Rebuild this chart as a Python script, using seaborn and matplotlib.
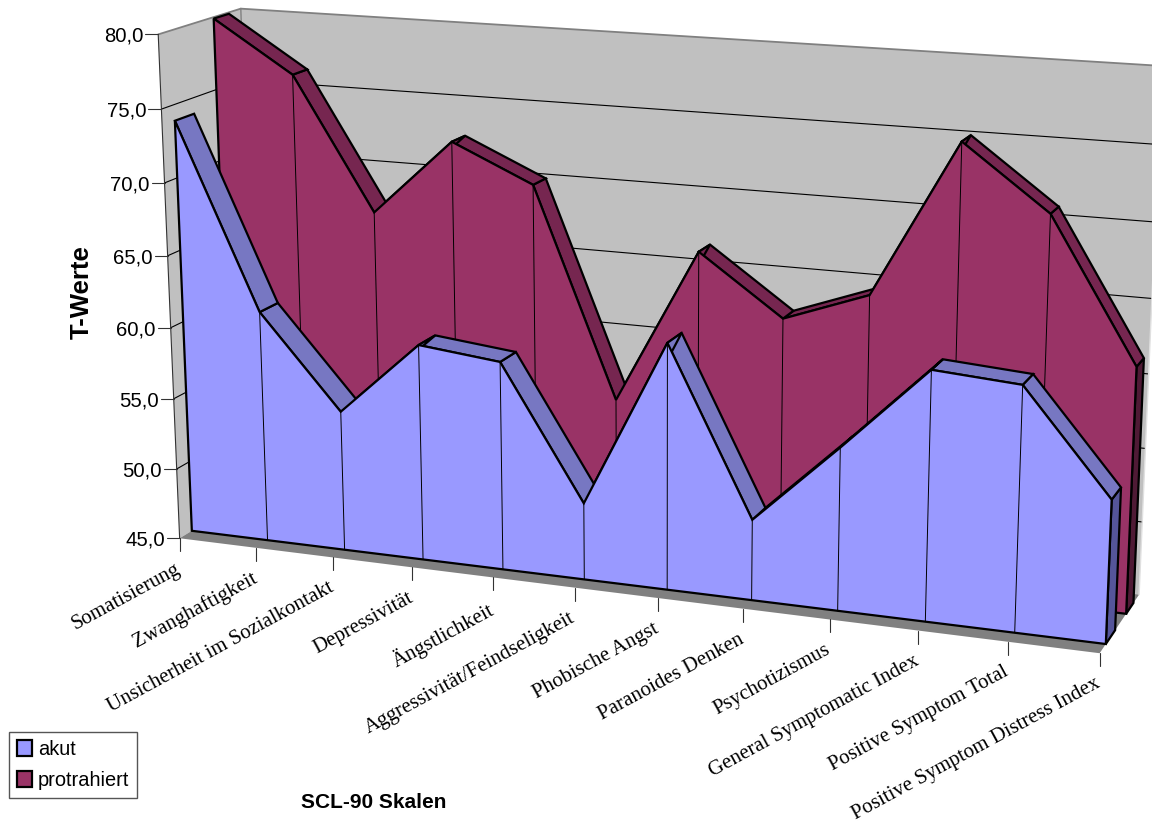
import numpy as np
import pandas as pd
import matplotlib
matplotlib.use("Agg")
import matplotlib.pyplot as plt
from matplotlib.patches import Patch
import seaborn as sns

# === DATA ===
skalen = ["Somatisierung", "Zwanghaftigkeit", "Unsicherheit im Sozialkontakt", "Depressivität",
          "Ängstlichkeit", "Aggressivität/Feindseligkeit", "Phobische Angst", "Paranoides Denken",
          "Psychotizismus", "General Symptomatic Index", "Positive Symptom Total",
          "Positive Symptom Distress Index"]
akut = [73.9, 61.2, 54.8, 60.0, 59.4, 50.3, 61.8, 50.5, 56.0, 61.7, 61.3, 54.5]
protrahiert = [79.9, 76.4, 67.3, 72.6, 70.1, 55.8, 66.5, 62.5, 64.6, 75.1, 70.9, 61.5]
y_ticks = [45, 50, 55, 60, 65, 70, 75, 80]

# === COLOURS ===
C_WALL = "#C0C0C0"
C_FLOOR = "#808080"
C_AKUT = ("#9999FF", "#7777C2", "#55559A")
C_PROT = ("#993366", "#762650", "#4F1A35")

# === 3D PROJECTION (calibrated on the excel box corners) ===
# (category, value, depth) -> pixel
calib = [(0, 80, 0, 159, 35), (0, 45, 0, 179, 538), (11, 45, 0, 1100, 653),
         (0, 80, 1, 240, 8), (0, 45, 1, 259, 491), (11, 45, 1, 1139, 594),
         (11, 80, 1, 1162, 66), (1, 45, 0.15, 267, 540), (5, 45, 0.15, 584, 579),
         (8, 45, 0.15, 838, 611), (11, 45, 0.15, 1106, 644), (11, 45, 0.67, 1126, 614)]
rows = []
for t, v, z, px, py in calib:
    w = [t / 11, (v - 45) / 35, z, 1]
    rows.append(w + [0, 0, 0, 0] + [-px / 1000 * a for a in w])
    rows.append([0, 0, 0, 0] + w + [-py / 1000 * a for a in w])
P = np.linalg.svd(np.array(rows))[2][-1].reshape(3, 4)

order = [1]  # painter's order, everything is drawn back to front


def next_z():
    order[0] += 1
    return order[0]


def proj(t, v, z):
    t, v, z = np.broadcast_arrays(np.asarray(t, float), np.asarray(v, float), np.asarray(z, float))
    w = np.c_[t.ravel() / 11, (v.ravel() - 45) / 35, z.ravel(), np.ones(t.size)]
    p = w @ P.T
    return p[:, 0] / p[:, 2] * 1000, p[:, 1] / p[:, 2] * 1000


def line(ax, t, v, z, color="black", lw=1.6):
    x, y = proj(t, v, z)
    df = pd.DataFrame({"x": x, "y": y})
    sns.lineplot(data=df, x="x", y="y", sort=False, estimator=None, color=color,
                 linewidth=lw, ax=ax, legend=False, zorder=next_z())


def poly(ax, t, v, z, color, lw=1.6):
    x, y = proj(t, v, z)
    ax.fill(x, y, facecolor=color, edgecolor="black" if lw else color, linewidth=lw,
            joinstyle="miter", zorder=next_z())


def draw_series(ax, values, z0, z1, colors):
    n = len(values)
    idx = np.arange(n)
    poly(ax, [n - 1] * 4, [45, values[-1], values[-1], 45], [z0, z0, z1, z1], colors[2])
    for i in range(n - 2, -1, -1):
        poly(ax, [i, i + 1, i + 1, i], [values[i], values[i + 1], values[i + 1], values[i]],
             [z0, z0, z1, z1], colors[1])
    ft = np.r_[0, idx, n - 1]
    fv = np.r_[45, values, 45]
    poly(ax, ft, fv, np.full(ft.size, z0), colors[0])
    for i in range(1, n - 1):
        line(ax, [i, i], [45, values[i]], [z0, z0], lw=0.7)


# === FIGURE ===
sns.set_theme(style="white")
plt.rcParams["font.family"] = ["Liberation Sans", "DejaVu Sans"]
fig = plt.figure(figsize=(11.52, 8.27), dpi=100)
ax = fig.add_axes([0, 0, 1, 1])

# walls and floor
poly(ax, [0, 11, 11, 0], [45, 45, 80, 80], [1, 1, 1, 1], C_WALL, lw=0)
poly(ax, [0, 0, 0, 0], [45, 80, 80, 45], [0, 0, 1, 1], C_WALL, lw=0)
poly(ax, [0, 11, 11, 0], [45, 45, 45, 45], [0, 0, 1, 1], C_FLOOR, lw=0)
for v in y_ticks[1:-1]:
    line(ax, [0, 11], [v, v], [1, 1], lw=0.8)
    line(ax, [0, 0], [v, v], [0, 1], lw=0.8)
line(ax, [0, 11], [80, 80], [1, 1], color=C_FLOOR, lw=1.3)
line(ax, [0, 0], [80, 80], [0, 1], color=C_FLOOR, lw=1.3)
line(ax, [0, 0], [45, 80], [1, 1], color=C_FLOOR, lw=1.0)
line(ax, [11, 11], [45, 80], [1, 1], color="#E0E0E0", lw=1.0)
line(ax, [0, 0], [45, 80], [0, 0], color="#333333", lw=0.8)

# series, back one first
draw_series(ax, protrahiert, 0.66, 0.85, C_PROT)
draw_series(ax, akut, 0.15, 0.38, C_AKUT)

# value axis
for v in y_ticks:
    x, y = proj(0, v, 0)
    ax.plot([x[0] - 13, x[0]], [y[0], y[0]], color="#333333", lw=0.8, zorder=next_z())
    ax.text(x[0] - 15, y[0], f"{v:.1f}".replace(".", ","), ha="right", va="center_baseline",
            fontsize=14.6, color="black")

# category axis
for i, name in enumerate(skalen):
    x, y = proj(i, 45, 0)
    ax.plot([x[0], x[0]], [y[0], y[0] + 13], color="#333333", lw=0.8, zorder=next_z())
    ax.text(x[0] - 5, y[0] + 21, name, rotation=28.5, rotation_mode="anchor", ha="right", va="top",
            fontsize=15, family="Liberation Serif", color="black")

ax.text(82, 292, "T-Werte", rotation=90, ha="center", va="center", fontsize=18.5, fontweight="bold", color="black")
ax.text(374, 803, "SCL-90 Skalen", ha="center", va="center", fontsize=15, fontweight="bold", color="black")

handles = [Patch(facecolor=C_AKUT[0], edgecolor="black", linewidth=1.6, label="akut"),
           Patch(facecolor=C_PROT[0], edgecolor="black", linewidth=1.6, label="protrahiert")]
ax.legend(handles=handles, loc="upper left", bbox_to_anchor=(9 / 1152, 1 - 732 / 827),
          bbox_transform=fig.transFigure, fancybox=False, framealpha=1, edgecolor="#555555",
          fontsize=14.4, handlelength=0.75, handleheight=0.8, handletextpad=0.3, labelspacing=0.6,
          borderpad=0.4, borderaxespad=0, labelcolor="black")

ax.set_xlim(0, 1152)
ax.set_ylim(827, 0)
ax.axis("off")
fig.savefig("out.png", dpi=100)
